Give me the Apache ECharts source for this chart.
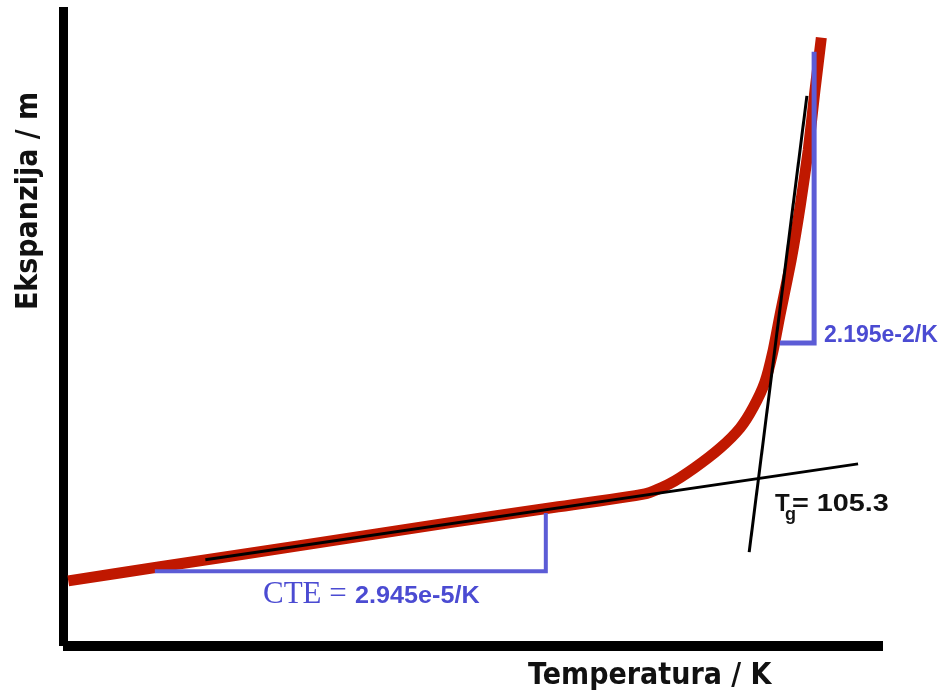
<!DOCTYPE html>
<html>
<head>
<meta charset="utf-8">
<script src="https://cdn.jsdelivr.net/npm/echarts@6/dist/echarts.min.js"></script>
<style>
html,body{margin:0;padding:0;background:#fff;}
#chart{width:948px;height:693px;}
</style>
</head>
<body>
<div id="chart"></div>
<script>
// Measured curve: temperature (K) vs expansion (arbitrary units)
var tempMeasured = [0.8, 14.8, 36.1, 59.0, 74.2, 88.7, 92.5, 96.3, 100.2, 103.2, 105.2, 107.0, 108.2, 109.3, 111.0, 112.4, 113.6, 114.6, 115.6];
var expMeasured  = [10.2, 12.4, 15.7, 19.3, 21.6, 23.8, 25.4, 27.9, 31.0, 34.1, 37.3, 41.3, 46.0, 51.8, 60.4, 69.0, 77.6, 86.7, 95.2];
// Tangent lines (glassy and rubbery regions)
var tangentGlassT = [21.7, 121.2];
var tangentGlassE = [13.5, 28.5];
var tangentRubberT = [104.6, 113.4];
var tangentRubberE = [14.7, 86.1];
// Slope triangles
var slopeGlassT = [14.0, 73.6, 73.6];
var slopeGlassE = [11.7, 11.7, 20.8];
var slopeRubberT = [114.5, 114.5, 109.3];
var slopeRubberE = [93.0, 47.4, 47.4];
// Axis ranges
var tempRange = [0, 125];
var expRange = [0, 100];
// Texts
var xTitle = 'Temperatura / K';
var yTitle = 'Ekspanzija / m';
var cteLabel = 'CTE =';
var cteValue = '2.945e-5/K';
var rubberValue = '2.195e-2/K';
var tgValue = '= 105.3';

function zip(a, b) { return a.map(function (v, i) { return [v, b[i]]; }); }

var chart = echarts.init(document.getElementById('chart'));
var blue = '#5c5cd6';
var blueText = '#4b4bd2';
chart.setOption({
  animation: false,
  backgroundColor: '#fff',
  grid: { left: 63, right: 65, top: 7, bottom: 47 },
  xAxis: {
    type: 'value', min: tempRange[0], max: tempRange[1],
    axisLine: { show: true, onZero: false, lineStyle: { color: '#000', width: 10, cap: 'butt' } },
    axisTick: { show: false }, axisLabel: { show: false }, splitLine: { show: false }
  },
  yAxis: {
    type: 'value', min: expRange[0], max: expRange[1],
    axisLine: { show: true, onZero: false, lineStyle: { color: '#000', width: 9, cap: 'butt' } },
    axisTick: { show: false }, axisLabel: { show: false }, splitLine: { show: false }
  },
  series: [
    { type: 'line', data: zip(tempMeasured, expMeasured), showSymbol: false, smooth: 0.2,
      lineStyle: { color: '#c01800', width: 11, cap: 'butt', join: 'round' }, z: 2 },
    { type: 'line', data: zip(tangentGlassT, tangentGlassE), showSymbol: false,
      lineStyle: { color: '#000', width: 3 }, z: 3 },
    { type: 'line', data: zip(tangentRubberT, tangentRubberE), showSymbol: false,
      lineStyle: { color: '#000', width: 3 }, z: 3 },
    { type: 'line', data: zip(slopeGlassT, slopeGlassE), showSymbol: false,
      lineStyle: { color: blue, width: 4, join: 'miter' }, z: 4 },
    { type: 'line', data: zip(slopeRubberT, slopeRubberE), showSymbol: false,
      lineStyle: { color: blue, width: 5, join: 'miter' }, z: 4 }
  ],
  graphic: [
    { type: 'text', x: 528, y: 676, scaleX: 0.87,
      style: { text: xTitle, font: 'bold 31px "DejaVu Sans"', fill: '#111', textAlign: 'left', textVerticalAlign: 'middle' } },
    { type: 'text', x: 29, y: 201, rotation: Math.PI / 2, scaleX: 0.87,
      style: { text: yTitle, font: 'bold 31px "DejaVu Sans"', fill: '#111', textAlign: 'center', textVerticalAlign: 'middle' } },
    { type: 'text', x: 263, y: 595,
      style: { text: cteLabel, font: '31px "Liberation Serif"', fill: blueText, textAlign: 'left', textVerticalAlign: 'middle' } },
    { type: 'text', x: 355, y: 596, scaleX: 1.05,
      style: { text: cteValue, font: 'bold 24px "Liberation Sans"', fill: blueText, textAlign: 'left', textVerticalAlign: 'middle' } },
    { type: 'text', x: 824, y: 336,
      style: { text: rubberValue, font: 'bold 23px "Liberation Sans"', fill: blueText, textAlign: 'left', textVerticalAlign: 'middle' } },
    { type: 'text', x: 775, y: 504,
      style: { text: 'T', font: 'bold 24px "Liberation Sans"', fill: '#111', textAlign: 'left', textVerticalAlign: 'middle' } },
    { type: 'text', x: 785, y: 515,
      style: { text: 'g', font: 'bold 18px "Liberation Sans"', fill: '#111', textAlign: 'left', textVerticalAlign: 'middle' } },
    { type: 'text', x: 792, y: 504, scaleX: 1.2,
      style: { text: tgValue, font: 'bold 24px "Liberation Sans"', fill: '#111', textAlign: 'left', textVerticalAlign: 'middle' } }
  ]
});
</script>
</body>
</html>
